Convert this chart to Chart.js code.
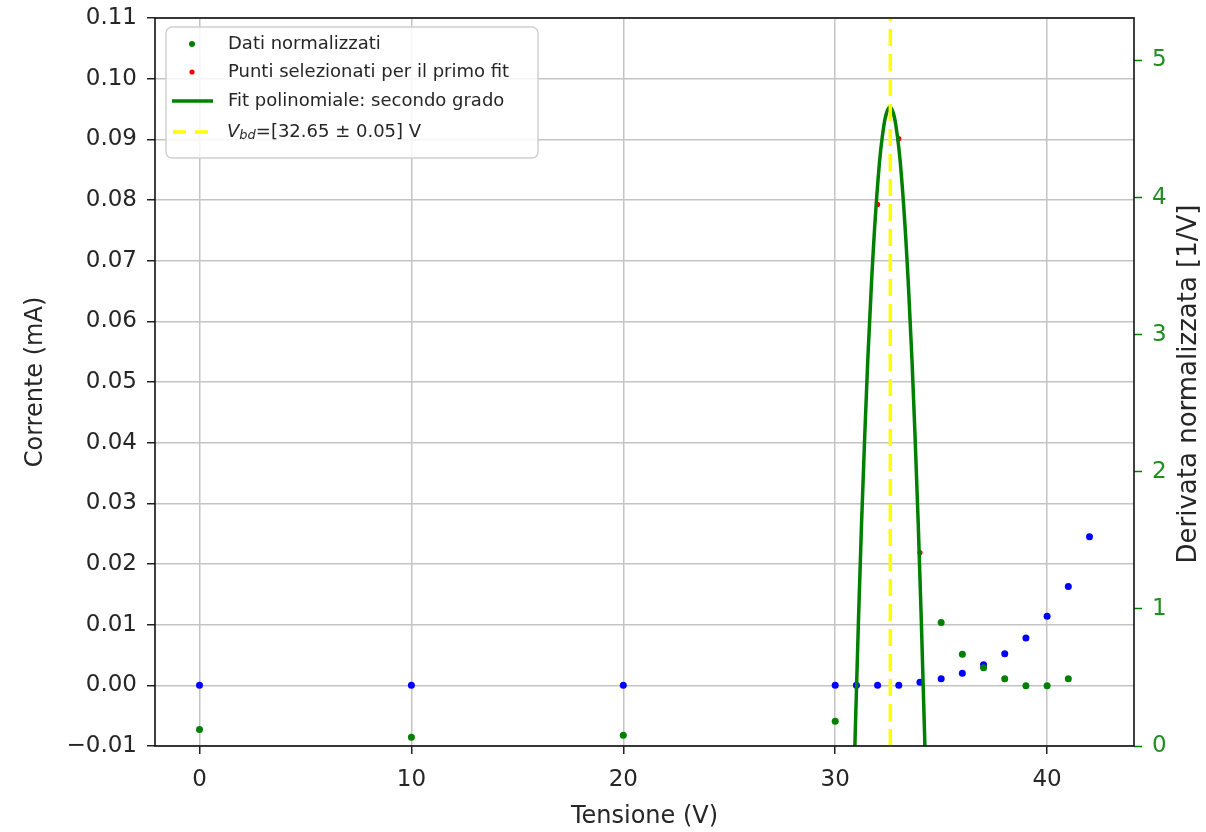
<!DOCTYPE html>
<html>
<head>
<meta charset="utf-8">
<script src="https://cdn.jsdelivr.net/npm/chart.js@4.4.0/dist/chart.umd.min.js"></script>
<style>
body{margin:0;background:#fff}
#chart_container{width:1206px;height:832px;position:relative}
</style>
</head>
<body>
<div id="chart_container"><canvas id="myChart"></canvas></div>
<script>
// dati misurati: tensione (V) e corrente normalizzata (mA), asse sinistro
var tensione = [0, 10, 20, 30, 31, 32, 33, 34, 35, 36, 37, 38, 39, 40, 41, 42];
var corrente = [0, 0, 0, 0, 0, 0, 0, 0.0005, 0.0011, 0.0020, 0.0034, 0.0052, 0.0078, 0.0114, 0.0163, 0.0245];

// derivata normalizzata (1/V), asse destro
var derivX = [0, 10, 20, 30, 35, 36, 37, 38, 39, 40, 41];
var derivY = [0.12, 0.063, 0.078, 0.18, 0.90, 0.67, 0.57, 0.49, 0.44, 0.44, 0.49];

// punti selezionati per il primo fit
var selX = [32, 33, 34];
var selY = [3.95, 4.43, 1.41];

// curva del fit di secondo grado
var fitX = [30.8, 31.1, 31.4, 31.7, 32.0, 32.3, 32.58, 32.86, 33.16, 33.46, 33.76, 34.06, 34.36];
var fitY = [-0.73, 0.93, 2.29, 3.34, 4.09, 4.53, 4.66, 4.53, 4.09, 3.34, 2.29, 0.93, -0.73];

// tensione di breakdown
var vbdX = 32.6;

// assi
var xRange = [-2.1, 44.1];
var yRange = [-0.01, 0.11];
var yRRange = [0, 5.31];
var xTicks = [0, 10, 20, 30, 40];
var yTicks = [-0.01, 0.00, 0.01, 0.02, 0.03, 0.04, 0.05, 0.06, 0.07, 0.08, 0.09, 0.10, 0.11];
var yRTicks = [0, 1, 2, 3, 4, 5];

var legendLabels = ["Dati normalizzati", "Punti selezionati per il primo fit", "Fit polinomiale: secondo grado", "=[32.65 \u00b1 0.05] V"];
var rightTitle = "Derivata normalizzata [1/V]";

function punti(xs, ys){
    return xs.map(function(x, i){ return {x: x, y: ys[i]}; });
}

function fixTicks(list){
    return function(scale){
        scale.ticks = list.map(function(v){ return {value: v}; });
    };
}

function fixWidth(w){
    return function(s){
        s.width = w;
        s.paddingTop = 0;
        s.paddingBottom = 0;
    };
}

var FONT = "'DejaVu Sans'";
var TXT = "#262626";
var GRID = "#c4c4c4";

var cornice = {
    id: 'cornice',
    afterDatasetsDraw: function(chart){
        var a = chart.chartArea, ctx = chart.ctx;
        ctx.save();
        ctx.strokeStyle = "#111";
        ctx.lineWidth = 1.6;
        ctx.strokeRect(a.left, a.top, a.right - a.left, a.bottom - a.top);
        ctx.restore();
    }
};

// titolo asse destro, letto dal basso verso l'alto come in matplotlib
var titoloDestro = {
    id: 'titoloDestro',
    afterDraw: function(chart){
        var a = chart.chartArea, ctx = chart.ctx;
        ctx.save();
        ctx.translate(1189, (a.top + a.bottom) / 2 + 2);
        ctx.rotate(-Math.PI / 2);
        ctx.font = "26px " + FONT;
        ctx.fillStyle = TXT;
        ctx.textAlign = "center";
        ctx.textBaseline = "middle";
        ctx.fillText(rightTitle, 0, 0);
        ctx.restore();
    }
};

var legenda = {
    id: 'legenda',
    afterDraw: function(chart){
        var ctx = chart.ctx;
        ctx.save();
        ctx.beginPath();
        ctx.roundRect(166, 27, 372, 131, 6);
        ctx.fillStyle = "rgba(255,255,255,0.85)";
        ctx.fill();
        ctx.strokeStyle = "#d0d0d0";
        ctx.lineWidth = 1.5;
        ctx.stroke();

        var rows = [44, 72, 101, 132];
        ctx.fillStyle = "green";
        ctx.beginPath(); ctx.arc(192, rows[0], 3, 0, Math.PI*2); ctx.fill();
        ctx.fillStyle = "red";
        ctx.beginPath(); ctx.arc(192, rows[1], 2.6, 0, Math.PI*2); ctx.fill();
        ctx.strokeStyle = "green"; ctx.lineWidth = 3.5;
        ctx.beginPath(); ctx.moveTo(172, rows[2]); ctx.lineTo(213, rows[2]); ctx.stroke();
        ctx.strokeStyle = "#ffff00"; ctx.lineWidth = 3.5;
        ctx.setLineDash([13, 9]);
        ctx.beginPath(); ctx.moveTo(173, rows[3]); ctx.lineTo(211, rows[3]); ctx.stroke();
        ctx.setLineDash([]);

        ctx.fillStyle = TXT;
        ctx.textBaseline = "middle";
        ctx.font = "18px " + FONT;
        for (var i = 0; i < 3; i++) {
            ctx.fillText(legendLabels[i], 228, rows[i]);
        }
        ctx.font = "italic 18px " + FONT;
        ctx.fillText("V", 227, rows[3]);
        var w = ctx.measureText("V").width;
        ctx.font = "italic 13px " + FONT;
        ctx.fillText("bd", 227 + w, rows[3] + 4);
        var w2 = ctx.measureText("bd").width;
        ctx.font = "18px " + FONT;
        ctx.fillText(legendLabels[3], 227 + w + w2, rows[3]);
        ctx.restore();
    }
};

var ctx = document.getElementById("myChart").getContext('2d');

var myChart = new Chart(ctx, {
    type: 'scatter',
    data: {
        datasets: [{
            label: 'Vbd',
            data: [{x: vbdX, y: yRRange[0]}, {x: vbdX, y: yRRange[1]}],
            yAxisID: 'yR',
            showLine: true,
            borderColor: "#ffff00",
            borderWidth: 3.5,
            borderDash: [17, 8],
            pointRadius: 0
        }, {
            label: 'Fit polinomiale: secondo grado',
            data: punti(fitX, fitY),
            yAxisID: 'yR',
            showLine: true,
            borderColor: "green",
            borderWidth: 3.5,
            tension: 0.4,
            pointRadius: 0
        }, {
            label: 'Punti selezionati per il primo fit',
            data: punti(selX, selY),
            yAxisID: 'yR',
            backgroundColor: "red",
            borderWidth: 0,
            pointRadius: 2.6
        }, {
            label: 'Dati normalizzati',
            data: punti(derivX, derivY),
            yAxisID: 'yR',
            backgroundColor: "green",
            borderWidth: 0,
            pointRadius: 3.5
        }, {
            label: 'Corrente',
            data: punti(tensione, corrente),
            yAxisID: 'y',
            backgroundColor: "blue",
            borderWidth: 0,
            pointRadius: 3.5
        }]
    },
    options: {
        responsive: true,
        maintainAspectRatio: false,
        animation: false,
        events: [],
        layout: {padding: {top: 18, left: 0, right: 0, bottom: 0}},
        plugins: {legend: {display: false}, tooltip: {enabled: false}},
        scales: {
            x: {
                type: 'linear',
                position: 'bottom',
                min: xRange[0],
                max: xRange[1],
                afterBuildTicks: fixTicks(xTicks),
                afterFit: function(s){ s.height = 86; },
                border: {display: false},
                grid: {color: GRID, lineWidth: 1.5, tickLength: 8, tickColor: "#222", tickWidth: 1.5},
                ticks: {font: {family: FONT, size: 23}, color: TXT, padding: 12, maxRotation: 0,
                    callback: function(v){ return String(v); }},
                title: {display: true, text: 'Tensione (V)', color: TXT, font: {family: FONT, size: 24}, padding: {top: 0, bottom: 1}}
            },
            y: {
                type: 'linear',
                position: 'left',
                min: yRange[0],
                max: yRange[1],
                afterBuildTicks: fixTicks(yTicks),
                afterFit: fixWidth(155),
                border: {display: false},
                grid: {color: GRID, lineWidth: 1.5, tickLength: 8, tickColor: "#222", tickWidth: 1.5},
                ticks: {font: {family: FONT, size: 23}, color: TXT, padding: 10,
                    callback: function(v){ return v.toFixed(2).replace('-', '\u2212'); }},
                title: {display: true, text: 'Corrente (mA)', color: TXT, font: {family: FONT, size: 24}, padding: {top: 21, bottom: 0}}
            },
            yR: {
                type: 'linear',
                position: 'right',
                min: yRRange[0],
                max: yRRange[1],
                afterBuildTicks: fixTicks(yRTicks),
                afterFit: fixWidth(72),
                border: {display: false},
                grid: {drawOnChartArea: false, tickLength: 8, tickColor: "green", tickWidth: 1.5},
                ticks: {font: {family: FONT, size: 23}, color: "#1f8f1f", padding: 10},
                title: {display: false}
            }
        }
    },
    plugins: [cornice, titoloDestro, legenda]
});
</script>
</body>
</html>
